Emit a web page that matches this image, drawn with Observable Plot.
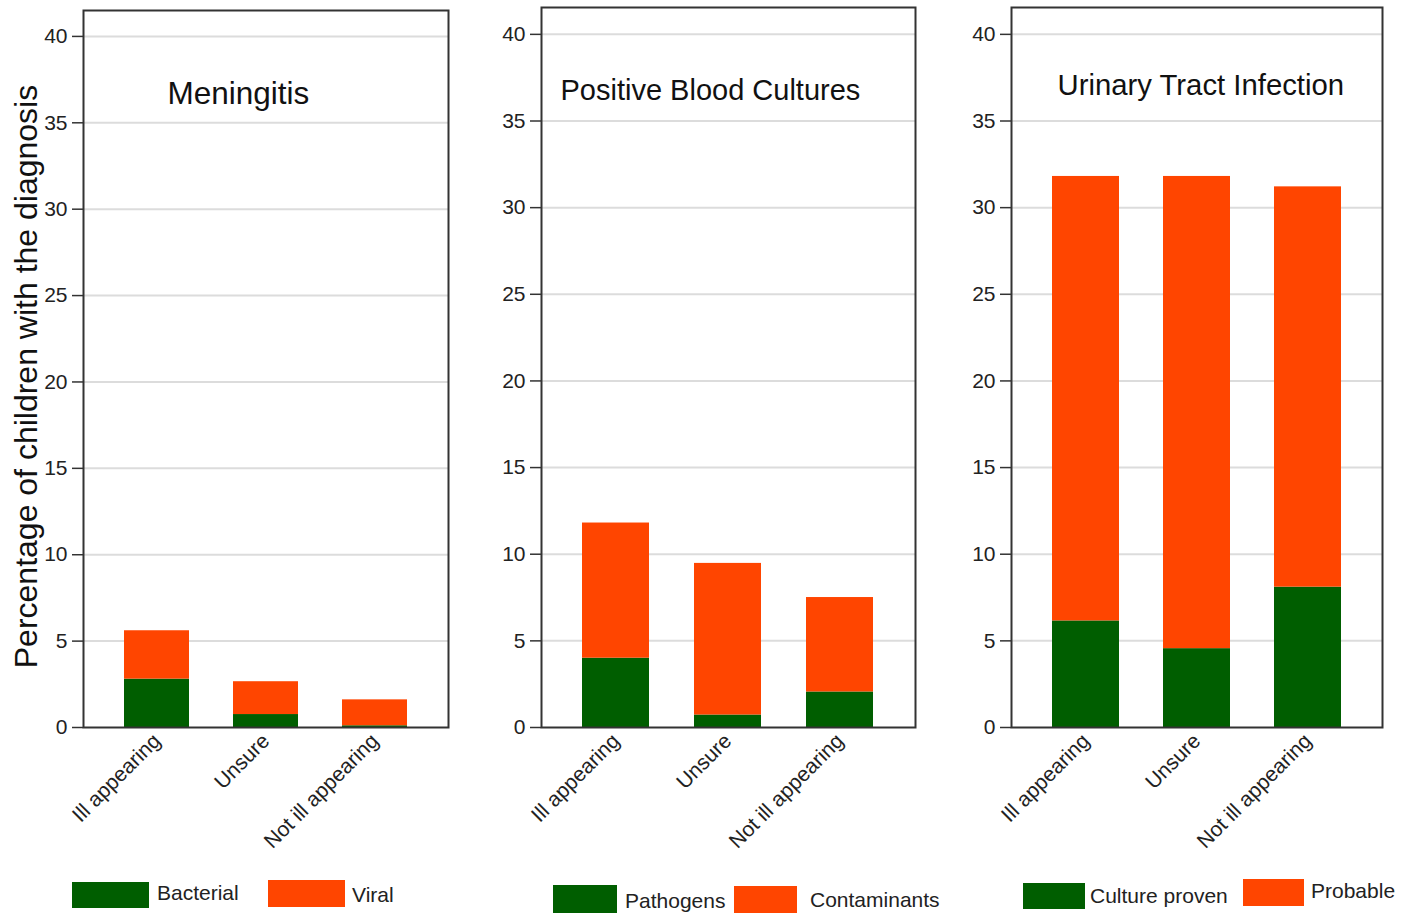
<!DOCTYPE html>
<html>
<head>
<meta charset="utf-8">
<script src="https://cdn.jsdelivr.net/npm/d3@7"></script>
<script src="https://cdn.jsdelivr.net/npm/@observablehq/plot@0.6"></script>
<style>
  html, body { margin: 0; padding: 0; background: #fff; }
  #root { position: relative; width: 1414px; height: 915px; overflow: hidden; font-family: "Liberation Sans", Arial, sans-serif; }
  .panel { position: absolute; top: 0; }
  .sw { position: absolute; }
  .lab { position: absolute; font-size: 21px; line-height: 21px; color: #222; white-space: nowrap; }
</style>
</head>
<body>
<div id="root"></div>
<script>
// ---- data ----
const categories = ["Ill appearing", "Unsure", "Not ill appearing"];
const yTicks = [0, 5, 10, 15, 20, 25, 30, 35, 40];

const meningitisSeries = ["Bacterial", "Viral"];
const meningitisBacterial = [2.8, 0.75, 0.1];
const meningitisViral = [2.8, 1.9, 1.5];

const bloodSeries = ["Pathogens", "Contaminants"];
const bloodPathogens = [4.0, 0.72, 2.05];
const bloodContaminants = [7.8, 8.75, 5.45];

const utiSeries = ["Culture proven", "Probable"];
const utiCultureProven = [6.15, 4.55, 8.1];
const utiProbable = [25.65, 27.25, 23.1];

const titles = ["Meningitis", "Positive Blood Cultures", "Urinary Tract Infection"];
const yAxisLabel = "Percentage of children with the diagnosis";

// ---- styling ----
const GREEN = "#005e00";
const ORANGE = "#ff4500";
const FONT = "'Liberation Sans', Arial, sans-serif";
const root = document.getElementById("root");

function table(series, a, b) {
  return categories.flatMap((c, i) => [
    {cat: c, series: series[0], value: a[i]},
    {cat: c, series: series[1], value: b[i]}
  ]);
}

function panel(opt) {
  const data = table(opt.series, opt.a, opt.b);
  const marks = [
    Plot.gridY(yTicks.filter(d => d > 0), {stroke: "#dcdcdc", strokeWidth: 2, strokeOpacity: 1}),
    Plot.barY(data, {x: "cat", y: "value", fill: "series"}),
    Plot.frame({stroke: "#333", strokeWidth: 2}),
    Plot.axisY(yTicks, {tickSize: 11, tickPadding: 5, fontSize: 21, stroke: "#333", strokeWidth: 1.5, label: null}),
    Plot.axisX({tickSize: 0, tickRotate: -45, tickPadding: 10, fontSize: 21, label: null}),
    Plot.text([opt.title], {frameAnchor: "top-left", textAnchor: "start", lineAnchor: "bottom",
      dx: opt.titleDx, dy: opt.titleDy, fontSize: opt.titleSize, fill: "#111"})
  ];
  if (opt.ylabel) {
    marks.push(Plot.text([opt.ylabel], {frameAnchor: "left", rotate: -90, textAnchor: "middle", lineAnchor: "middle",
      dx: -57, dy: 7.5, fontSize: 32, fill: "#111"}));
  }
  const chart = Plot.plot({
    width: opt.width,
    height: 870,
    marginLeft: opt.marginLeft,
    marginRight: opt.marginRight,
    marginTop: opt.marginTop,
    marginBottom: 870 - 727,
    style: {fontFamily: FONT, color: "#222", background: "transparent", overflow: "visible"},
    x: {domain: categories, paddingInner: 0.4, paddingOuter: 0.36, label: null},
    y: {domain: [0, opt.yMax], label: null},
    color: {domain: opt.series, range: [GREEN, ORANGE]},
    marks
  });
  const wrap = document.createElement("div");
  wrap.className = "panel";
  wrap.style.left = opt.left + "px";
  wrap.appendChild(chart);
  root.appendChild(wrap);
}

panel({left: 0, width: 460, marginLeft: 83, marginRight: 12, marginTop: 10, yMax: 41.5,
  series: meningitisSeries, a: meningitisBacterial, b: meningitisViral,
  title: titles[0], titleDx: 84, titleDy: 93, titleSize: 31.5, ylabel: yAxisLabel});
panel({left: 460, width: 460, marginLeft: 81, marginRight: 5, marginTop: 7, yMax: 41.55,
  series: bloodSeries, a: bloodPathogens, b: bloodContaminants,
  title: titles[1], titleDx: 19, titleDy: 92, titleSize: 29});
panel({left: 920, width: 494, marginLeft: 91, marginRight: 32, marginTop: 7, yMax: 41.55,
  series: utiSeries, a: utiCultureProven, b: utiProbable,
  title: titles[2], titleDx: 46, titleDy: 87, titleSize: 29.3});

// ---- legends (HTML, below the panels) ----
function swatch(color, x, y, w, h) {
  const d = document.createElement("div");
  d.className = "sw";
  Object.assign(d.style, {left: x + "px", top: y + "px", width: w + "px", height: h + "px", background: color});
  root.appendChild(d);
}
function label(text, x, y) {
  const d = document.createElement("div");
  d.className = "lab";
  d.textContent = text;
  Object.assign(d.style, {left: x + "px", top: y + "px"});
  root.appendChild(d);
}
swatch(GREEN, 72, 882, 77, 26);  label(meningitisSeries[0], 157, 882);
swatch(ORANGE, 268, 880, 77, 27); label(meningitisSeries[1], 352, 884);
swatch(GREEN, 553, 885, 64, 28); label(bloodSeries[0], 625, 890);
swatch(ORANGE, 734, 886, 63, 27); label(bloodSeries[1], 810, 889);
swatch(GREEN, 1023, 883, 62, 26); label(utiSeries[0], 1090, 885);
swatch(ORANGE, 1243, 879, 61, 27); label(utiSeries[1], 1311, 880);
</script>
</body>
</html>
